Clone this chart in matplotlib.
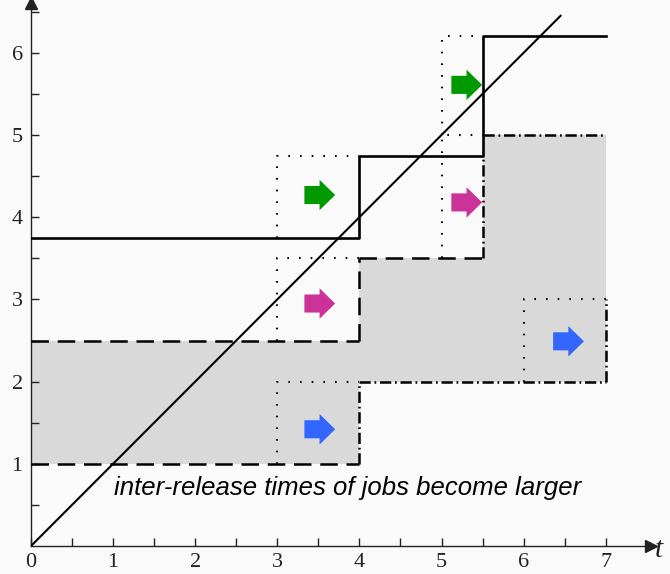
import matplotlib
matplotlib.use("Agg")
import matplotlib.pyplot as plt
from matplotlib.patches import FancyArrow

# ---- data ----
t_breaks = [0, 4, 5.5, 7]            # step boundaries
upper_levels = [3.75, 4.75, 6.2]     # solid staircase
band_top = [2.5, 3.5, 5.0]           # upper bound of shaded band
band_bottom = [1.0, 2.0, 2.0]        # lower bound of shaded band
diag_end = 6.45                      # y = t line end
# dotted boxes (x0, x1, y0, y1)
boxes = [(3, 4, 1, 2), (3, 4, 2.5, 3.5), (3, 4, 3.75, 4.75),
         (5, 5.5, 3.5, 5), (5, 5.5, 5, 6.2), (6, 7, 2, 3)]
# block arrows (tail x, y, colour)
arrow_x = [3.33, 3.33, 3.33, 5.12, 5.12, 6.36]
arrow_y = [4.27, 2.95, 1.42, 5.61, 4.18, 2.49]
arrow_c = ['#009900', '#cc3399', '#3366ff', '#009900', '#cc3399', '#3366ff']
xticks = [0, 1, 2, 3, 4, 5, 6, 7]
yticks = [1, 2, 3, 4, 5, 6]
caption = "inter-release times of jobs become larger"

fig = plt.figure(figsize=(6.7, 5.74), dpi=100, facecolor='#fafafa')
ax = fig.add_axes([31 / 670, 28 / 574, 7.55 * 82.1 / 670, 6.6 * 82.2 / 574])
ax.set_facecolor('#fafafa')
ax.set_xlim(0, 7.55)
ax.set_ylim(0, 6.6)

# shaded band
fx = t_breaks
ax.fill_between(fx, band_bottom + [band_bottom[-1]], band_top + [band_top[-1]],
                step='post', color='#d9d9d9', lw=0, zorder=1)

dashed = dict(color='black', lw=1.8, ls=(0, (7, 3.5)), zorder=3)
dashdot = dict(color='black', lw=1.8, ls=(0, (4.5, 1.5, 0.7, 1.5)), zorder=3)
dotted = dict(color='black', lw=1.5, ls=(0, (0.8, 4.8)), zorder=2)

# upper bound of band
ax.plot([t_breaks[0], t_breaks[1]], [band_top[0]] * 2, **dashed)
ax.plot([t_breaks[1]] * 2, [band_top[0], band_top[1]], **dashed)
ax.plot([t_breaks[1], t_breaks[2]], [band_top[1]] * 2, **dashed)
ax.plot([t_breaks[2]] * 2, [band_top[1], upper_levels[1]], **dashdot)
ax.plot([t_breaks[2], t_breaks[3]], [band_top[2]] * 2, **dashdot)
# lower bound of band
ax.plot([t_breaks[0], t_breaks[1]], [band_bottom[0]] * 2, **dashed)
ax.plot([t_breaks[1]] * 2, [band_bottom[0], band_bottom[1]], **dashdot)
ax.plot([t_breaks[1], t_breaks[3]], [band_bottom[1]] * 2, **dashdot)
ax.plot([t_breaks[3]] * 2, [band_bottom[2], boxes[5][3]], **dashdot)

# dotted boxes (left and top edges)
for x0, x1, y0, y1 in boxes:
    ax.plot([x0, x0, x1], [y0, y1, y1], **dotted)

# solid staircase
ax.step(t_breaks, upper_levels + [upper_levels[-1]], where='post',
        color='black', lw=1.9, zorder=4)

# diagonal
ax.plot([0, diag_end], [0, diag_end], color='black', lw=1.5, zorder=4)

# block arrows
for x, y, c in zip(arrow_x, arrow_y, arrow_c):
    ax.add_patch(FancyArrow(x, y, 0.375, 0, width=0.22, head_width=0.37,
                            head_length=0.19, length_includes_head=True,
                            color=c, lw=0, zorder=5))

# caption
ax.text(3.86, 0.70, caption, ha='center', va='center', fontsize=18.5,
        style='italic', family='Liberation Sans', zorder=6)

# axes styling
for s in ['top', 'right']:
    ax.spines[s].set_visible(False)
for s in ['left', 'bottom']:
    ax.spines[s].set_color('#222222')
    ax.spines[s].set_linewidth(1.0)
ax.plot(1, 0, '>', color='#222222', ms=8, transform=ax.transAxes, clip_on=False)
ax.plot(0, 1, '^', color='#222222', ms=8, transform=ax.transAxes, clip_on=False)

ax.set_xticks(xticks)
ax.set_yticks(yticks)
ax.set_xticks([v + 0.5 for v in range(7)], minor=True)
ax.set_yticks([v + 0.5 for v in range(7) if v + 0.5 < 6.6], minor=True)
ax.tick_params(which='both', direction='in', length=6, width=1.0, color='#222222')
ax.tick_params(axis='x', pad=5)
ax.tick_params(axis='y', pad=6)
for lab in ax.get_xticklabels() + ax.get_yticklabels():
    lab.set_family('Liberation Serif')
    lab.set_fontsize(16)
    lab.set_color('#222222')

fig.text(655 / 670, 1 - 550 / 574, 't', fontsize=21, style='italic',
         family='Liberation Serif', ha='left', va='center', color='#222222')

fig.savefig('out.png', dpi=100, facecolor=fig.get_facecolor())
